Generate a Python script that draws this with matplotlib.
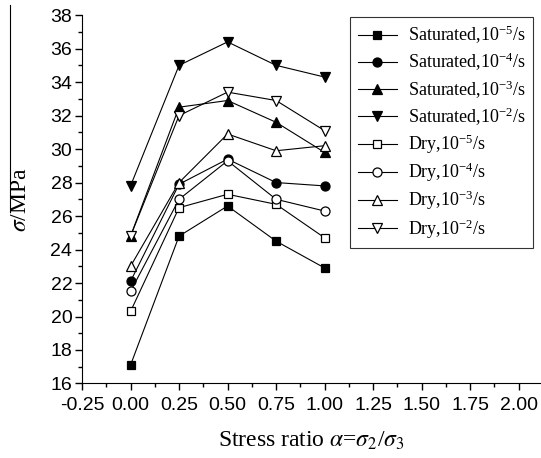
import matplotlib
matplotlib.use('Agg')
import matplotlib.pyplot as plt
from matplotlib.lines import Line2D
from matplotlib.ticker import MultipleLocator

# stress ratio
alpha = [0.0, 0.25, 0.5, 0.75, 1.0]

sat_5 = [17.1, 24.8, 26.6, 24.5, 22.9]
sat_4 = [22.1, 27.9, 29.4, 28.0, 27.8]
sat_3 = [24.8, 32.5, 32.9, 31.6, 29.8]
sat_2 = [27.8, 35.0, 36.4, 35.0, 34.3]
dry_5 = [20.3, 26.5, 27.3, 26.7, 24.7]
dry_4 = [21.5, 27.0, 29.3, 27.0, 26.3]
dry_3 = [23.0, 28.0, 30.9, 29.9, 30.2]
dry_2 = [24.8, 32.0, 33.4, 32.9, 31.1]

labels = [
    'Saturated,$\\mathregular{10^{-5}}$/s',
    'Saturated,$\\mathregular{10^{-4}}$/s',
    'Saturated,$\\mathregular{10^{-3}}$/s',
    'Saturated,$\\mathregular{10^{-2}}$/s',
    'Dry,$\\mathregular{10^{-5}}$/s',
    'Dry,$\\mathregular{10^{-4}}$/s',
    'Dry,$\\mathregular{10^{-3}}$/s',
    'Dry,$\\mathregular{10^{-2}}$/s',
]

series = [sat_5, sat_4, sat_3, sat_2, dry_5, dry_4, dry_3, dry_2]
markers = ['s', 'o', '^', 'v', 's', 'o', '^', 'v']
faces = ['black'] * 4 + ['white'] * 4
sizes = [5.5, 6.5, 6.5, 7.0, 5.5, 6.5, 6.5, 7.0]

plt.rcParams['mathtext.fontset'] = 'stix'
plt.rcParams['axes.unicode_minus'] = False

fig = plt.figure(figsize=(5.41, 4.58), dpi=100)
ax = fig.add_axes([0.1516, 0.1627, 0.8466, 0.8043])

for y, m, fc, ms, lab in zip(series, markers, faces, sizes, labels):
    ax.plot(alpha, y, color='black', lw=0.8, marker=m, markersize=ms,
            markerfacecolor=fc, markeredgecolor='black', markeredgewidth=0.9,
            label=lab)

ax.set_xlim(-0.25, 2.11)
ax.set_ylim(16, 38)
ax.set_xticks([-0.25, 0, 0.25, 0.5, 0.75, 1.0, 1.25, 1.5, 1.75, 2.0])
ax.xaxis.set_minor_locator(MultipleLocator(0.125))
ax.yaxis.set_major_locator(MultipleLocator(2))
ax.yaxis.set_minor_locator(MultipleLocator(1))
ax.tick_params(which='major', direction='out', length=5, width=1, labelsize=14)
ax.tick_params(axis='x', which='major', pad=5)
ax.tick_params(axis='y', which='major', pad=2)
ax.tick_params(which='minor', direction='out', length=3, width=1)
for t in ax.get_xticklabels() + ax.get_yticklabels():
    t.set_family('Liberation Sans')

ax.spines['top'].set_visible(False)
ax.spines['right'].set_visible(False)

ax.set_xlabel('Stress ratio $\\mathit{\\alpha}$=$\\mathit{\\sigma}_2$/$\\mathit{\\sigma}_3$',
              family='Liberation Serif', fontsize=17, labelpad=11)
ax.set_ylabel('$\\mathit{\\sigma}$/MPa', family='Liberation Serif', fontsize=17)
ax.yaxis.set_label_coords(-0.112, 0.50)
# long overline over sigma as in the original scan
fig.add_artist(Line2D([0.0185, 0.0185], [0.537, 0.989], color='black', lw=0.8))

leg = ax.legend(loc='upper right', bbox_to_anchor=(0.985, 0.995), borderaxespad=0,
                numpoints=1, handlelength=2.2, handletextpad=0.6, labelspacing=0.27,
                fancybox=False, prop={'family': 'Liberation Serif', 'size': 13})
leg.get_frame().set_edgecolor('black')
leg.get_frame().set_linewidth(0.8)

fig.savefig('out.png', dpi=100)
